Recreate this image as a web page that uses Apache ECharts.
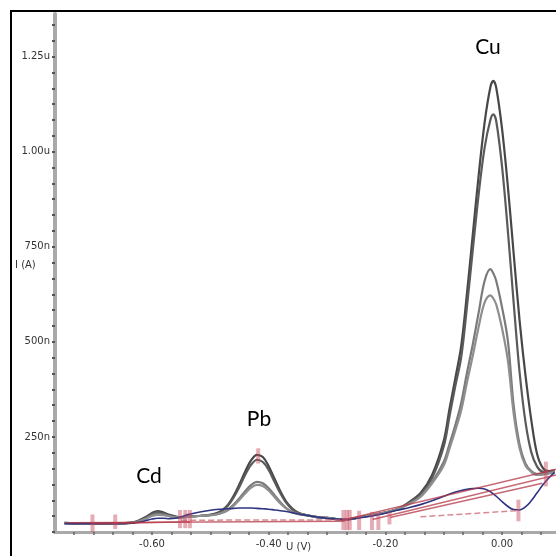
<!DOCTYPE html>
<html><head><meta charset="utf-8">
<script src="https://cdn.jsdelivr.net/npm/echarts@6/dist/echarts.min.js"></script>
<style>html,body{margin:0;padding:0;background:#fff}#c{width:556px;height:556px}</style>
</head><body><div id="c"></div>
<script>
// Potential (V)
const potential = [-0.75,-0.72,-0.69,-0.66,
  -0.64,-0.63,-0.62,-0.61,-0.60,-0.59,-0.58,-0.57,-0.56,-0.55,-0.54,
  -0.52,-0.50,
  -0.49,-0.48,-0.47,-0.46,-0.45,-0.44,-0.43,-0.42,-0.41,-0.40,-0.39,-0.38,-0.37,-0.36,-0.35,-0.34,
  -0.32,-0.30,-0.27,-0.24,-0.21,-0.18,-0.16,-0.14,-0.12,-0.10,-0.09,-0.08,-0.07,
  -0.06,-0.05,-0.04,-0.03,-0.02,-0.015,-0.01,0.00,0.01,0.02,0.03,0.04,0.05,0.06,0.07,0.08,0.09];
// Currents (nA)
const scanA = [24,22,22,23,
  24,26,32,40,50,55,51,45,41,39,40,
  42,45,
  49,57,71,95,126,160,189,203,197,173,140,107,80,62,51,46,
  40,37,33,40,48,60,78,102,150,240,325,405,490,
  630,785,940,1076,1170,1186,1168,1059,907,729,556,413,295,205,168,160,162];
const scanB = [24,22,22,23,
  24,26,31,38,47,52,49,44,40,39,40,
  42,45,
  48,56,69,91,119,151,177,190,184,163,132,102,77,60,51,46,
  40,37,33,40,48,60,76,98,142,225,305,385,460,
  595,745,890,1010,1084,1098,1080,960,790,600,420,290,210,172,158,157,160];
const scanC = [23,22,22,22,
  23,25,30,36,44,48,46,42,39,38,40,
  42,44,
  46,51,59,72,89,108,124,132,128,115,97,78,63,53,48,45,
  40,37,33,40,48,60,74,94,132,185,232,282,340,
  420,495,578,660,691,680,660,590,502,330,230,180,160,152,152,155,158];
const scanD = [23,22,22,22,
  23,25,29,35,42,45,44,41,38,38,39,
  42,44,
  46,50,57,69,85,102,117,124,121,109,92,75,62,52,47,45,
  40,37,33,40,48,60,73,92,128,175,220,268,320,
  395,465,540,603,622,614,598,535,450,310,220,175,158,150,151,154,158];
const blank = [22,22,22,22,
  23,24,26,30,34,36,36,35,36,40,45,
  52,57,
  59,60,61,62,63,63,63,62,61,60,58,56,54,51,48,45,
  40,36,33,38,46,57,64,72,82,94,100,105,109,
  112,114,115,113,106,100,94,80,67,59,58,66,82,103,124,142,157];
// Baseline fits (start/end points)
const fitX1 = [-0.746,-0.70,-0.55,-0.274,-0.222,-0.192,-0.14];
const fitY1 = [24,22,31,31,33,38,40];
const fitX2 = [-0.27,-0.535,-0.27,0.0924,0.0924,0.069,0.025];
const fitY2 = [28,27,32,165,150,128,56];
// Peak-search markers
const markX  = [-0.702,-0.663,-0.552,-0.543,-0.535,-0.418,-0.272,-0.266,-0.261,-0.245,-0.223,-0.212,-0.193,0.028,0.075];
const markLo = [0,8,10,10,10,180,5,5,5,5,5,5,20,28,120];
const markHi = [46,46,58,58,58,220,58,58,58,56,53,53,53,85,185];
// Tick labels
const xTickLabels = [-0.6,-0.4,-0.2,0];
const yTickLabels = [250,500,750,1000,1250];
const peakNames = ['Cd','Pb','Cu'];

const X_MIN=-0.7662, X_MAX=0.0924, Y_MIN=0, Y_MAX=1362;
const xMinor=[]; for(let i=-6;i<=25;i++){const v=-0.6+i*0.2/6; if(v>=X_MIN-1e-9&&v<=X_MAX) xMinor.push(+v.toFixed(5));}
const yMinor=[]; for(let i=0;i*250/6<=Y_MAX;i++) yMinor.push(+(i*250/6).toFixed(3));
function pairs(ys){return potential.map((x,i)=>[x,ys[i]]);}

const chart = echarts.init(document.getElementById('c'), null, {renderer:'canvas'});
const scanColors=['#474747','#5a5a5a','#7a7a7a','#8e8e8e'];
const series=[];
[scanA,scanB,scanC,scanD].forEach((s,i)=>{
  series.push({type:'line',data:pairs(s),smooth:0.35,showSymbol:false,silent:true,animation:false,z:2,
    lineStyle:{color:scanColors[i],width:2.2}});
});
series.push({type:'line',data:pairs(blank),smooth:0.4,showSymbol:false,silent:true,animation:false,z:3,
  lineStyle:{color:'#2e3480',width:1.6}});
const dashedFits=[2,6];
fitX1.forEach((x,i)=>{
  series.push({type:'line',data:[[x,fitY1[i]],[fitX2[i],fitY2[i]]],showSymbol:false,silent:true,animation:false,z:4,
    lineStyle:{color:dashedFits.includes(i)?'rgba(200,90,105,0.7)':'rgba(180,55,70,0.75)',width:1.5,type:dashedFits.includes(i)?'dashed':'solid'}});
});
series.push({type:'custom',animation:false,silent:true,z:5,
  data:markX.map((x,i)=>[x,markLo[i],markHi[i]]),
  encode:{x:0,y:[1,2]},
  renderItem:(params,api)=>{
    const p1=api.coord([api.value(0),api.value(1)]);
    const p2=api.coord([api.value(0),api.value(2)]);
    return {type:'line',shape:{x1:p1[0],y1:p1[1],x2:p2[0],y2:p2[1]},style:{stroke:'rgba(200,70,90,0.45)',lineWidth:4}};
  }});

chart.setOption({
  animation:false,
  backgroundColor:'#fff',
  grid:{left:55,right:0,top:14,bottom:24,containLabel:false},
  xAxis:{type:'value',min:X_MIN,max:X_MAX,
    axisLine:{show:true,onZero:false,lineStyle:{color:'#a9a9a9',width:3}},
    axisTick:{show:true,customValues:xMinor,length:3,lineStyle:{color:'#666',width:1.5}},
    axisLabel:{customValues:xTickLabels,formatter:v=>v.toFixed(2),fontSize:10,color:'#333',fontFamily:'DejaVu Sans',margin:7,hideOverlap:false},
    splitLine:{show:false}},
  yAxis:{type:'value',min:Y_MIN,max:Y_MAX,
    axisLine:{show:true,onZero:false,lineStyle:{color:'#a9a9a9',width:4}},
    axisTick:{show:true,customValues:yMinor,length:3,lineStyle:{color:'#555',width:2}},
    axisLabel:{customValues:yTickLabels,formatter:v=>v>=1000?(v/1000).toFixed(2)+'u':Math.round(v)+'n',fontSize:10,color:'#333',fontFamily:'DejaVu Sans',margin:5,hideOverlap:false},
    splitLine:{show:false}},
  series:series,
  graphic:[
    {type:'rect',shape:{x:11,y:11,width:600,height:600},style:{fill:'none',stroke:'#000',lineWidth:2},z:100},
    {type:'text',x:15,y:265,style:{text:'I (A)',fontSize:10,fontFamily:'DejaVu Sans',fill:'#333',verticalAlign:'middle'}},
    {type:'text',x:286,y:547,style:{text:'U (V)',fontSize:10,fontFamily:'DejaVu Sans',fill:'#333',verticalAlign:'middle'}},
    {type:'text',x:149,y:476,style:{text:peakNames[0],fontSize:21,fontFamily:'Lato',fill:'#000',align:'center',verticalAlign:'middle'}},
    {type:'text',x:259,y:419,style:{text:peakNames[1],fontSize:21,fontFamily:'Lato',fill:'#000',align:'center',verticalAlign:'middle'}},
    {type:'text',x:488,y:47,style:{text:peakNames[2],fontSize:21,fontFamily:'Lato',fill:'#000',align:'center',verticalAlign:'middle'}}
  ]
});
</script></body></html>
